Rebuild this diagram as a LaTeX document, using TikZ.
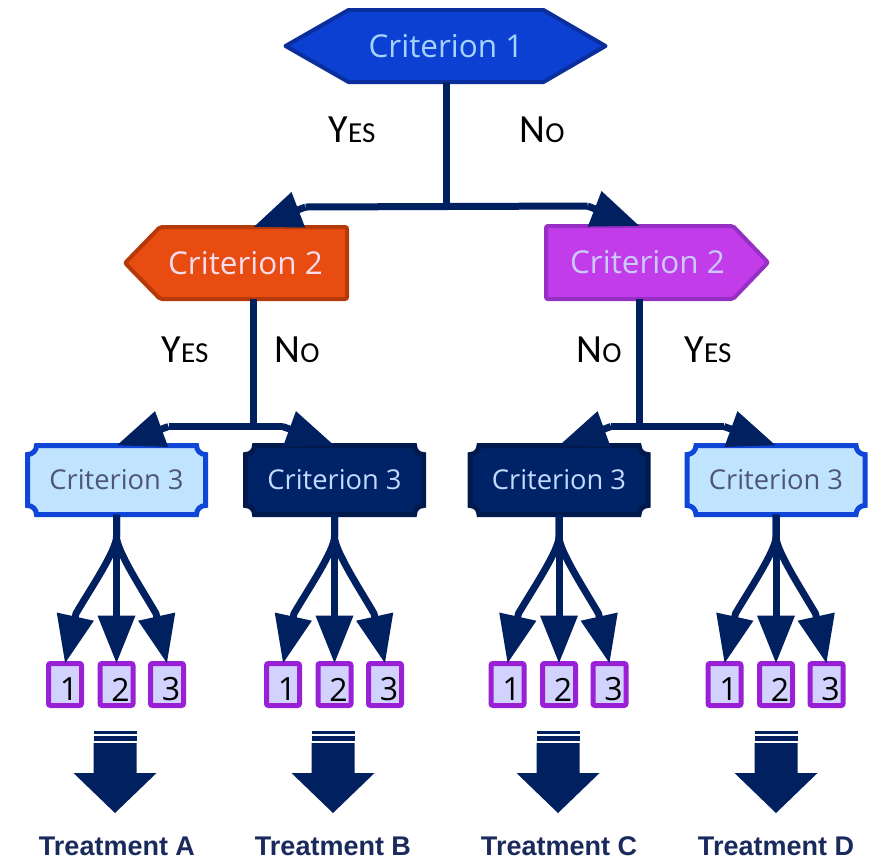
\documentclass[tikz,border=0pt]{standalone}
\usepackage{fontspec}
\usetikzlibrary{arrows.meta,calc,backgrounds}
\newfontfamily\critfont{Open Sans}
\newfontfamily\ynfont{Carlito}
\newfontfamily\treatfont{Liberation Sans}
\definecolor{navy}{HTML}{002060}
\definecolor{hexfill}{HTML}{0B40D2}
\definecolor{hexdraw}{HTML}{0A2E9C}
\definecolor{hextext}{HTML}{A6D2FF}
\definecolor{orfill}{HTML}{E84C10}
\definecolor{ordraw}{HTML}{B43A0A}
\definecolor{ortext}{HTML}{F6DCEC}
\definecolor{pufill}{HTML}{C23CEA}
\definecolor{pudraw}{HTML}{9630C4}
\definecolor{putext}{HTML}{CACAFF}
\definecolor{ltfill}{HTML}{C0E4FF}
\definecolor{ltdraw}{HTML}{1046D8}
\definecolor{lttext}{HTML}{4E5678}
\definecolor{dkfill}{HTML}{002266}
\definecolor{dkdraw}{HTML}{001A4E}
\definecolor{dktext}{HTML}{C4DAFF}
\definecolor{bxfill}{HTML}{D2D2FF}
\definecolor{bxdraw}{HTML}{9A20D6}
\definecolor{trtext}{HTML}{1A2A5C}
\newcommand\YN[2]{{\ynfont\fontsize{40}{44}\selectfont #1\fontsize{29}{32}\selectfont #2}}
\newcommand\plaque[2]{%
  \draw[#2] ($(#1.north west)+(0,9)$) .. controls +(5,0) and +(0,5) .. ($(#1.north west)+(9,0)$)
   -- ($(#1.north east)+(-9,0)$) .. controls +(0,5) and +(-5,0) .. ($(#1.north east)+(0,9)$)
   -- ($(#1.south east)+(0,-9)$) .. controls +(-5,0) and +(0,-5) .. ($(#1.south east)+(-9,0)$)
   -- ($(#1.south west)+(9,0)$) .. controls +(0,-5) and +(5,0) .. ($(#1.south west)+(0,-9)$)
   -- cycle;}
\tikzset{
  line/.style={draw=navy,line width=7pt},
  arr/.style={line,-{Triangle[length=48pt,width=36pt]}},
  fk/.style={line,line join=round,-{Triangle[length=48pt,width=36pt]}},
  body/.style={inner sep=0pt,outer sep=0pt},
  bigtext/.style={font=\critfont\fontsize{31.5}{36}\selectfont},
  midtext/.style={font=\critfont\fontsize{27.3}{30}\selectfont},
  c3box/.style={body,minimum width=178pt,minimum height=69pt,midtext},
  numbox/.style={draw=bxdraw,fill=bxfill,line width=5pt,rounded corners=2pt,minimum width=33pt,minimum height=42pt,inner sep=0pt,outer sep=0pt},
  digit/.style={font=\critfont\fontsize{32}{34}\selectfont,text=black,inner sep=0pt},
  yn/.style={text=black,inner sep=0pt},
  treat/.style={font=\treatfont\bfseries\fontsize{27}{30}\selectfont,text=trtext,inner sep=0pt},
}
\begin{document}
\begin{tikzpicture}[x=1pt,y=-1pt]
\begin{scope}[on background layer]
\fill[white] (0,0) rectangle (882,860);
\end{scope}
\useasboundingbox (0,0) rectangle (882,860);
% level 1
\node[body,bigtext,text=hextext,minimum width=195pt,minimum height=72pt] (c1) at (446,46) {Criterion 1};
% level 2
\node[body,bigtext,text=ortext,minimum width=187pt,minimum height=72pt] (c2a) at (253.5,263) {\hspace*{-16pt}Criterion 2};
\node[body,bigtext,text=putext,minimum width=187pt,minimum height=73pt] (c2b) at (639.5,262.5) {Criterion 2\hspace*{-16pt}};
% level 3
\node[c3box,text=lttext] (c3a) at (116.5,480) {Criterion 3};
\node[c3box,text=dktext] (c3b) at (334.5,480) {Criterion 3};
\node[c3box,text=dktext] (c3c) at (559,480) {Criterion 3};
\node[c3box,text=lttext] (c3d) at (776,480) {Criterion 3};
\begin{scope}[on background layer]
  \draw[fill=hexfill,draw=hexdraw,line width=4pt,line join=round]
    (c1.north west) -- (c1.north east) -- ($(c1.east)+(62,0)$) -- (c1.south east)
    -- (c1.south west) -- ($(c1.west)+(-63,0)$) -- cycle;
  \draw[fill=orfill,draw=ordraw,line width=4pt,rounded corners=2pt]
    (c2a.north west) -- (c2a.north east) -- (c2a.south east) -- (c2a.south west)
    -- ($(c2a.west)+(-35,0)$) -- cycle;
  \draw[fill=pufill,draw=pudraw,line width=4pt,rounded corners=2pt]
    (c2b.north west) -- (c2b.north east) -- ($(c2b.east)+(35,0)$) -- (c2b.south east)
    -- (c2b.south west) -- cycle;
  \plaque{c3a}{fill=ltfill,draw=ltdraw,line width=5pt}
  \plaque{c3b}{fill=dkfill,draw=dkdraw,line width=5pt}
  \plaque{c3c}{fill=dkfill,draw=dkdraw,line width=5pt}
  \plaque{c3d}{fill=ltfill,draw=ltdraw,line width=5pt}
\end{scope}
% junctions
\coordinate (j1) at (446,207);
\coordinate (j2a) at (253.5,424);
\coordinate (j2b) at (639.5,424);
\draw[line] (c1.south) -- (j1);
\draw[line] ($(c2a.north)+(52,-20)$) -- ($(c2b.north)+(-52,-20)$);
\draw[arr] ($(c2a.north)+(52,-20)$) -- (c2a.north);
\draw[arr] ($(c2b.north)+(-52,-20)$) -- (c2b.north);
\draw[line] (c2a.south) -- (j2a);
\draw[line] (c2b.south) -- (j2b);
\draw[line] ($(c3a.north)+(52,-19)$) -- ($(c3b.north)+(-52,-19)$);
\draw[line] ($(c3c.north)+(52,-19)$) -- ($(c3d.north)+(-52,-19)$);
\draw[arr] ($(c3a.north)+(52,-19)$) -- (c3a.north);
\draw[arr] ($(c3b.north)+(-52,-19)$) -- (c3b.north);
\draw[arr] ($(c3c.north)+(52,-19)$) -- (c3c.north);
\draw[arr] ($(c3d.north)+(-52,-19)$) -- (c3d.north);
% yes/no labels
\node[yn] (y1) at (352,130) {\YN{Y}{ES}};
\node[yn] (n1) at (542,130) {\YN{N}{O}};
\node[yn] (y2a) at (185,350) {\YN{Y}{ES}};
\node[yn] (n2a) at (297,350) {\YN{N}{O}};
\node[yn] (n2b) at (599,350) {\YN{N}{O}};
\node[yn] (y2b) at (708,350) {\YN{Y}{ES}};
% numbered boxes and forks
\foreach \n/\cx in {a/116.5,b/334.5,c/559,d/776}{
  \node[numbox] (\n1) at (\cx-51.5,684.5) {};
  \node[numbox] (\n2) at (\cx,684.5) {};
  \node[numbox] (\n3) at (\cx+50.5,684.5) {};
  \node[digit] (\n1t) at ($(\n1)+(4,5)$) {1};
  \node[digit] (\n2t) at ($(\n2)+(4,5)$) {2};
  \node[digit] (\n3t) at ($(\n3)+(4,5)$) {3};
  \draw[fk] (c3\n.south) -- ++(0,22) .. controls +(0,14) and +(14,-24) .. ($(\n1.north)+(11,-50)$) -- (\n1.north);
  \draw[fk] (c3\n.south) -- ++(0,22) .. controls +(0,14) and +(-14,-24) .. ($(\n3.north)+(-11,-50)$) -- (\n3.north);
  \draw[fk] (c3\n.south) -- (\n2.north);
}
% big arrows
\foreach \cx in {115,333,558,776}{
  \fill[navy] (\cx-21.5,731) rectangle (\cx+21.5,734);
  \fill[navy] (\cx-21.5,736) rectangle (\cx+21.5,741);
  \fill[navy] (\cx-21.5,743) -- (\cx+21.5,743) -- (\cx+21.5,773) -- (\cx+41.5,773)
     -- (\cx,813) -- (\cx-41.5,773) -- (\cx-21.5,773) -- cycle;
}
\node[treat] (ta) at (117,846) {Treatment A};
\node[treat] (tb) at (333,846) {Treatment B};
\node[treat] (tc) at (559,846) {Treatment C};
\node[treat] (td) at (776,846) {Treatment D};
\end{tikzpicture}
\end{document}
